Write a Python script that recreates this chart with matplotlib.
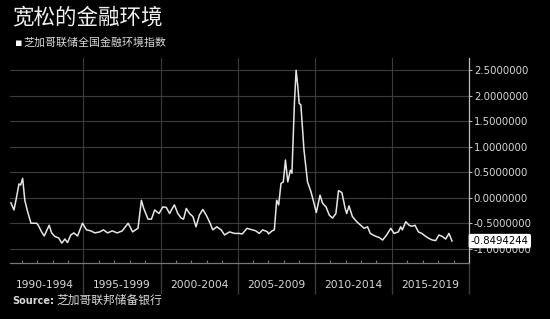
import numpy as np
import matplotlib
matplotlib.use("Agg")
import matplotlib.pyplot as plt
import matplotlib.ticker as mticker
import matplotlib.transforms as mtrans

# NFCI readings (fractional year, index value)
years = [1990.30, 1990.50, 1990.67, 1990.82, 1990.93, 1991.06, 1991.20, 1991.38,
         1991.60, 1991.97, 1992.07, 1992.29, 1992.46, 1992.78, 1992.94, 1993.15,
         1993.40, 1993.60, 1993.80, 1993.97, 1994.18, 1994.38, 1994.62, 1994.94,
         1995.20, 1995.48, 1995.74, 1996.06, 1996.30, 1996.57, 1996.87, 1997.19,
         1997.36, 1997.52, 1997.90, 1998.19, 1998.43, 1998.54, 1998.76, 1998.91,
         1999.19, 1999.41, 1999.62, 1999.90, 2000.15, 2000.37, 2000.59, 2000.76,
         2000.90, 2001.12, 2001.34, 2001.49, 2001.67, 2001.88, 2002.10, 2002.30,
         2002.52, 2002.74, 2002.96, 2003.17, 2003.39, 2003.65, 2003.93, 2004.15,
         2004.47, 2004.80, 2005.10, 2005.30, 2005.60, 2005.95, 2006.18, 2006.40,
         2006.62, 2006.94, 2007.00, 2007.23, 2007.38, 2007.53, 2007.66, 2007.81,
         2007.96, 2008.10, 2008.25, 2008.42, 2008.52, 2008.68, 2008.79, 2008.90,
         2008.99, 2009.10, 2009.30, 2009.53, 2009.75, 2009.90, 2010.10, 2010.34,
         2010.51, 2010.73, 2010.94, 2011.15, 2011.37, 2011.54, 2011.76, 2011.97,
         2012.07, 2012.22, 2012.44, 2012.72, 2012.98, 2013.20, 2013.42, 2013.60,
         2013.90, 2014.18, 2014.40, 2014.66, 2014.93, 2015.14, 2015.42, 2015.57,
         2015.68, 2015.90, 2016.12, 2016.29, 2016.50, 2016.72, 2016.94, 2017.20,
         2017.41, 2017.63, 2017.84, 2018.05, 2018.27, 2018.49, 2018.70, 2018.90]
nfci = [-0.10, -0.24, 0.02, 0.27, 0.25, 0.38, -0.05, -0.27,
        -0.50, -0.50, -0.54, -0.67, -0.75, -0.54, -0.69, -0.76,
        -0.79, -0.89, -0.81, -0.88, -0.73, -0.69, -0.75, -0.50,
        -0.63, -0.65, -0.69, -0.67, -0.63, -0.69, -0.65, -0.69,
        -0.67, -0.65, -0.50, -0.67, -0.62, -0.60, -0.05, -0.21,
        -0.42, -0.42, -0.24, -0.31, -0.18, -0.19, -0.31, -0.21,
        -0.14, -0.31, -0.40, -0.42, -0.21, -0.31, -0.37, -0.57,
        -0.34, -0.23, -0.34, -0.47, -0.63, -0.57, -0.63, -0.73,
        -0.67, -0.70, -0.70, -0.71, -0.60, -0.63, -0.65, -0.70,
        -0.63, -0.67, -0.71, -0.65, -0.63, -0.05, -0.14, 0.28,
        0.31, 0.74, 0.31, 0.54, 0.48, 1.85, 2.50, 2.18,
        1.85, 1.82, 0.94, 0.31, 0.12, -0.05, -0.29, 0.05,
        -0.11, -0.18, -0.34, -0.40, -0.31, 0.14, 0.10, -0.21,
        -0.31, -0.16, -0.37, -0.47, -0.54, -0.60, -0.57, -0.70,
        -0.75, -0.78, -0.83, -0.73, -0.60, -0.70, -0.67, -0.57,
        -0.63, -0.47, -0.54, -0.56, -0.54, -0.67, -0.70, -0.76,
        -0.80, -0.83, -0.84, -0.73, -0.76, -0.81, -0.70, -0.8494244]

period_mid = [1992.5, 1997.5, 2002.5, 2007.5, 2012.5, 2017.5]
period_labels = ["1990-1994", "1995-1999", "2000-2004", "2005-2009", "2010-2014", "2015-2019"]
y_ticks = [-1.0, -0.5, 0.0, 0.5, 1.0, 1.5, 2.0, 2.5]

title = "宽松的金融环境"
subtitle = "芝加哥联储全国金融环境指数"
source = "芝加哥联邦储备银行"

plt.rcParams['font.family'] = ['DejaVu Sans', 'Noto Sans CJK SC']
cjk = ['Noto Sans CJK SC', 'DejaVu Sans']
grid_c = '#3c3c3c'
txt_c = '#d8d8d8'

fig = plt.figure(figsize=(5.5, 3.19), dpi=100, facecolor='black')
ax = fig.add_axes([10 / 550, 1 - 263 / 319, 459 / 550, 205 / 319], facecolor='black')

ax.plot(years, nfci, color='#e6e6e6', lw=1.1, zorder=3)

ax.set_xlim(1990.24, 2020.0)
ax.set_ylim(-1.28, 2.74)

ax.xaxis.set_major_locator(mticker.FixedLocator([1995, 2000, 2005, 2010, 2015, 2020]))
ax.xaxis.set_minor_locator(mticker.MultipleLocator(1))
ax.xaxis.set_major_formatter(mticker.NullFormatter())
ax.tick_params(axis='x', which='major', direction='out', length=22, color=grid_c, width=1)
ax.tick_params(axis='x', which='minor', direction='in', length=2.5, color='#777777', width=0.8)

ax.yaxis.tick_right()
ax.set_yticks(y_ticks)
ax.yaxis.set_major_formatter(mticker.FormatStrFormatter('%.7f'))
ax.tick_params(axis='y', direction='out', length=2.5, color='#bbbbbb', width=0.8,
               labelsize=7.3, labelcolor=txt_c, pad=1)

ax.grid(True, axis='both', which='major', color=grid_c, lw=0.8)
ax.set_axisbelow(True)

for s in ['top', 'left']:
    ax.spines[s].set_visible(False)
ax.spines['right'].set_color('#bbbbbb')
ax.spines['bottom'].set_color('#777777')
ax.spines['right'].set_linewidth(0.9)
ax.spines['bottom'].set_linewidth(0.9)

trans = mtrans.blended_transform_factory(ax.transData, ax.transAxes)
for xm, lab in zip(period_mid, period_labels):
    ax.text(xm, -0.107, lab, transform=trans, ha='center', va='center',
            fontsize=7.7, color=txt_c)

# last value tag
ax.annotate("%.7f" % nfci[-1], xy=(1.0, nfci[-1]), xycoords=('axes fraction', 'data'),
            xytext=(1.004, nfci[-1]), textcoords=('axes fraction', 'data'),
            ha='left', va='center', fontsize=7.3, color='black', zorder=10,
            annotation_clip=False,
            bbox=dict(boxstyle='round,pad=0.15,rounding_size=0.15', fc='white', ec='white'))

fig.text(12 / 550, 1 - 17 / 319, title, family=cjk, fontsize=15.5, color='#f0f0f0',
         ha='left', va='center')
fig.text(15 / 550, 1 - 43 / 319, "\u25aa", fontsize=8, color='white',
         ha='left', va='center')
fig.text(23 / 550, 1 - 43 / 319, subtitle, family=cjk, fontsize=7.9, color=txt_c,
         ha='left', va='center')
fig.text(12 / 550, 1 - 300.5 / 319, "Source:", fontsize=7.0, fontweight='bold',
         color=txt_c, ha='left', va='center')
fig.text(56 / 550, 1 - 300.5 / 319, source, family=cjk, fontsize=8.5, color=txt_c,
         ha='left', va='center')

fig.savefig('out.png', dpi=100, facecolor='black')
